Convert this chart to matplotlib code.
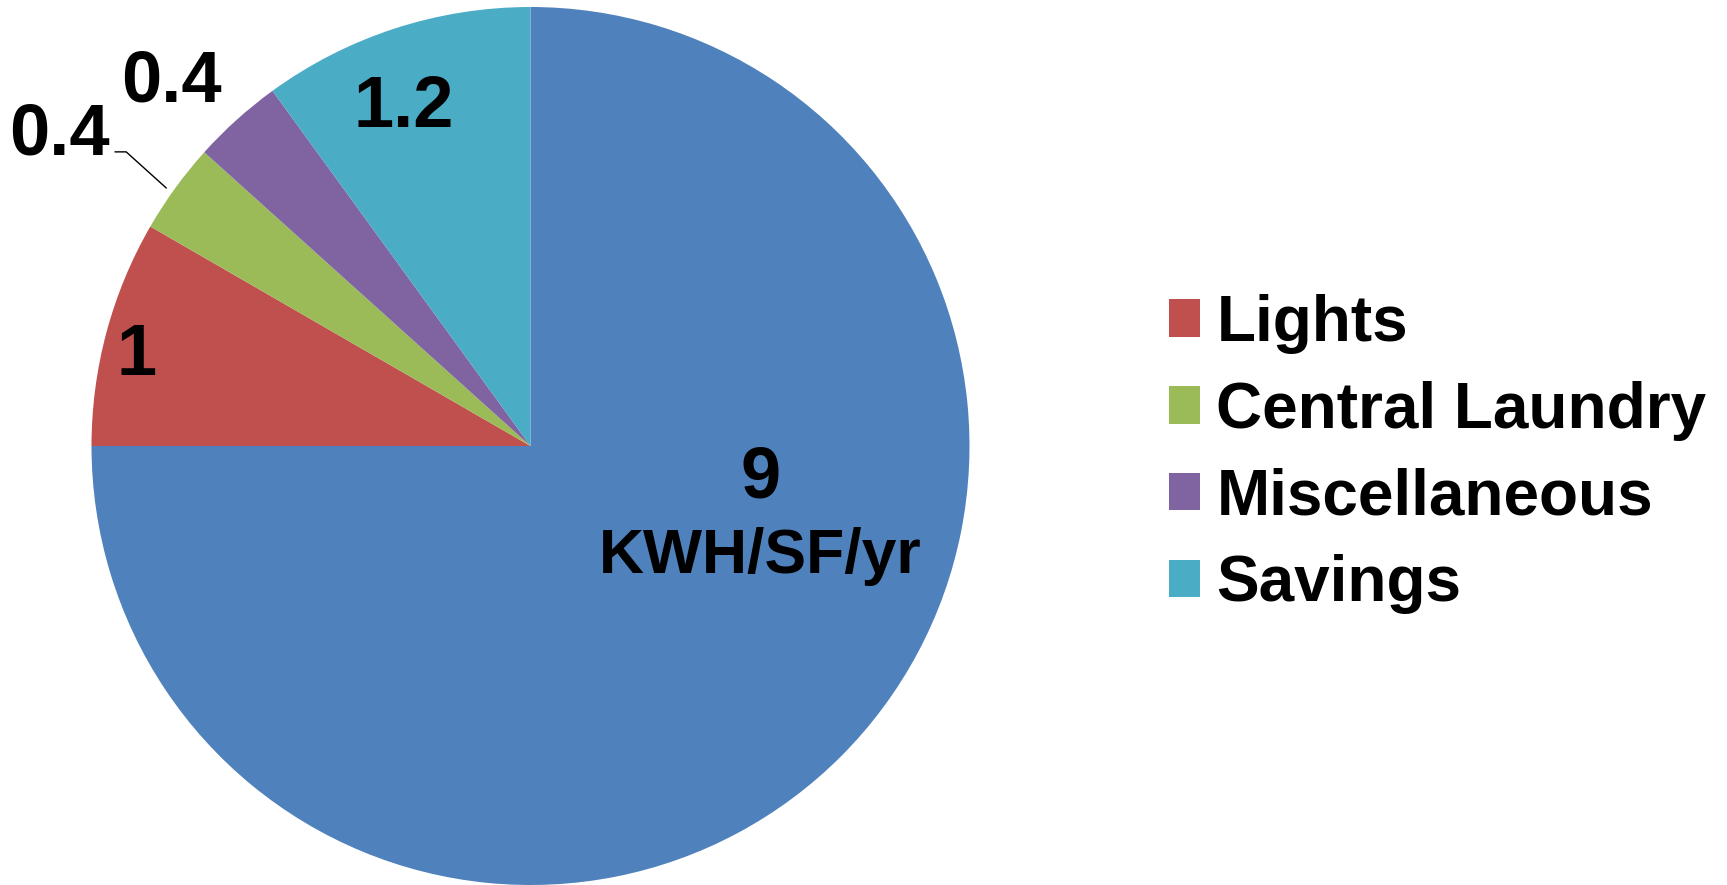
import matplotlib
matplotlib.use("Agg")
import matplotlib.pyplot as plt

# ── data ────────────────────────────────────────────────────────────────────
categories = ["", "Lights", "Central Laundry", "Miscellaneous", "Savings"]
values = [9, 1, 0.4, 0.4, 1.2]
value_labels = ["9", "1", "0.4", "0.4", "1.2"]
colors = ["#4F81BD", "#C0504D", "#9BBB59", "#8064A2", "#4BACC6"]
unit_label = "KWH/SF/yr"

plt.rcParams["font.family"] = ["Liberation Sans", "DejaVu Sans"]
plt.rcParams["font.weight"] = "bold"

W, H = 1727, 885
fig = plt.figure(figsize=(W / 100, H / 100), dpi=100)

# pie box in pixels: centre (530.5, 446), radius 439
cx, cy, r = 530.5, 446, 439
ax = fig.add_axes([(cx - r) / W, (H - cy - r) / H, 2 * r / W, 2 * r / H])

wedges, _ = ax.pie(values, colors=colors, startangle=90, counterclock=False,
                   radius=1, wedgeprops={"linewidth": 0})
ax.set_xlim(-1, 1)
ax.set_ylim(-1, 1)
ax.axis("off")

# data label anchors (x centre, baseline) in pie units
label_pos = [(0.523, -0.118), (-0.897, 0.162), (-1.072, 0.665),
             (-0.819, 0.784), (-0.288, 0.727)]
for (x, y), txt in zip(label_pos, value_labels):
    ax.text(x, y, txt, fontsize=52, fontweight="bold", ha="center",
            va="baseline")
ax.text(0.523, -0.289, unit_label, fontsize=45, fontweight="bold",
        ha="center", va="baseline")

# leader line for the Central Laundry label
ax.plot([-0.946, -0.921, -0.830], [0.670, 0.670, 0.588], color="black",
        lw=1.0, clip_on=False)

fig.legend(handles=wedges[1:], labels=categories[1:], loc="center left",
           bbox_to_anchor=(1169 / W, 1 - 454 / H), frameon=False,
           prop={"weight": "bold", "size": 46},
           handlelength=0.48, handleheight=0.52, handletextpad=0.26,
           labelspacing=0.42, borderpad=0, borderaxespad=0)

fig.savefig("out.png", dpi=100)
